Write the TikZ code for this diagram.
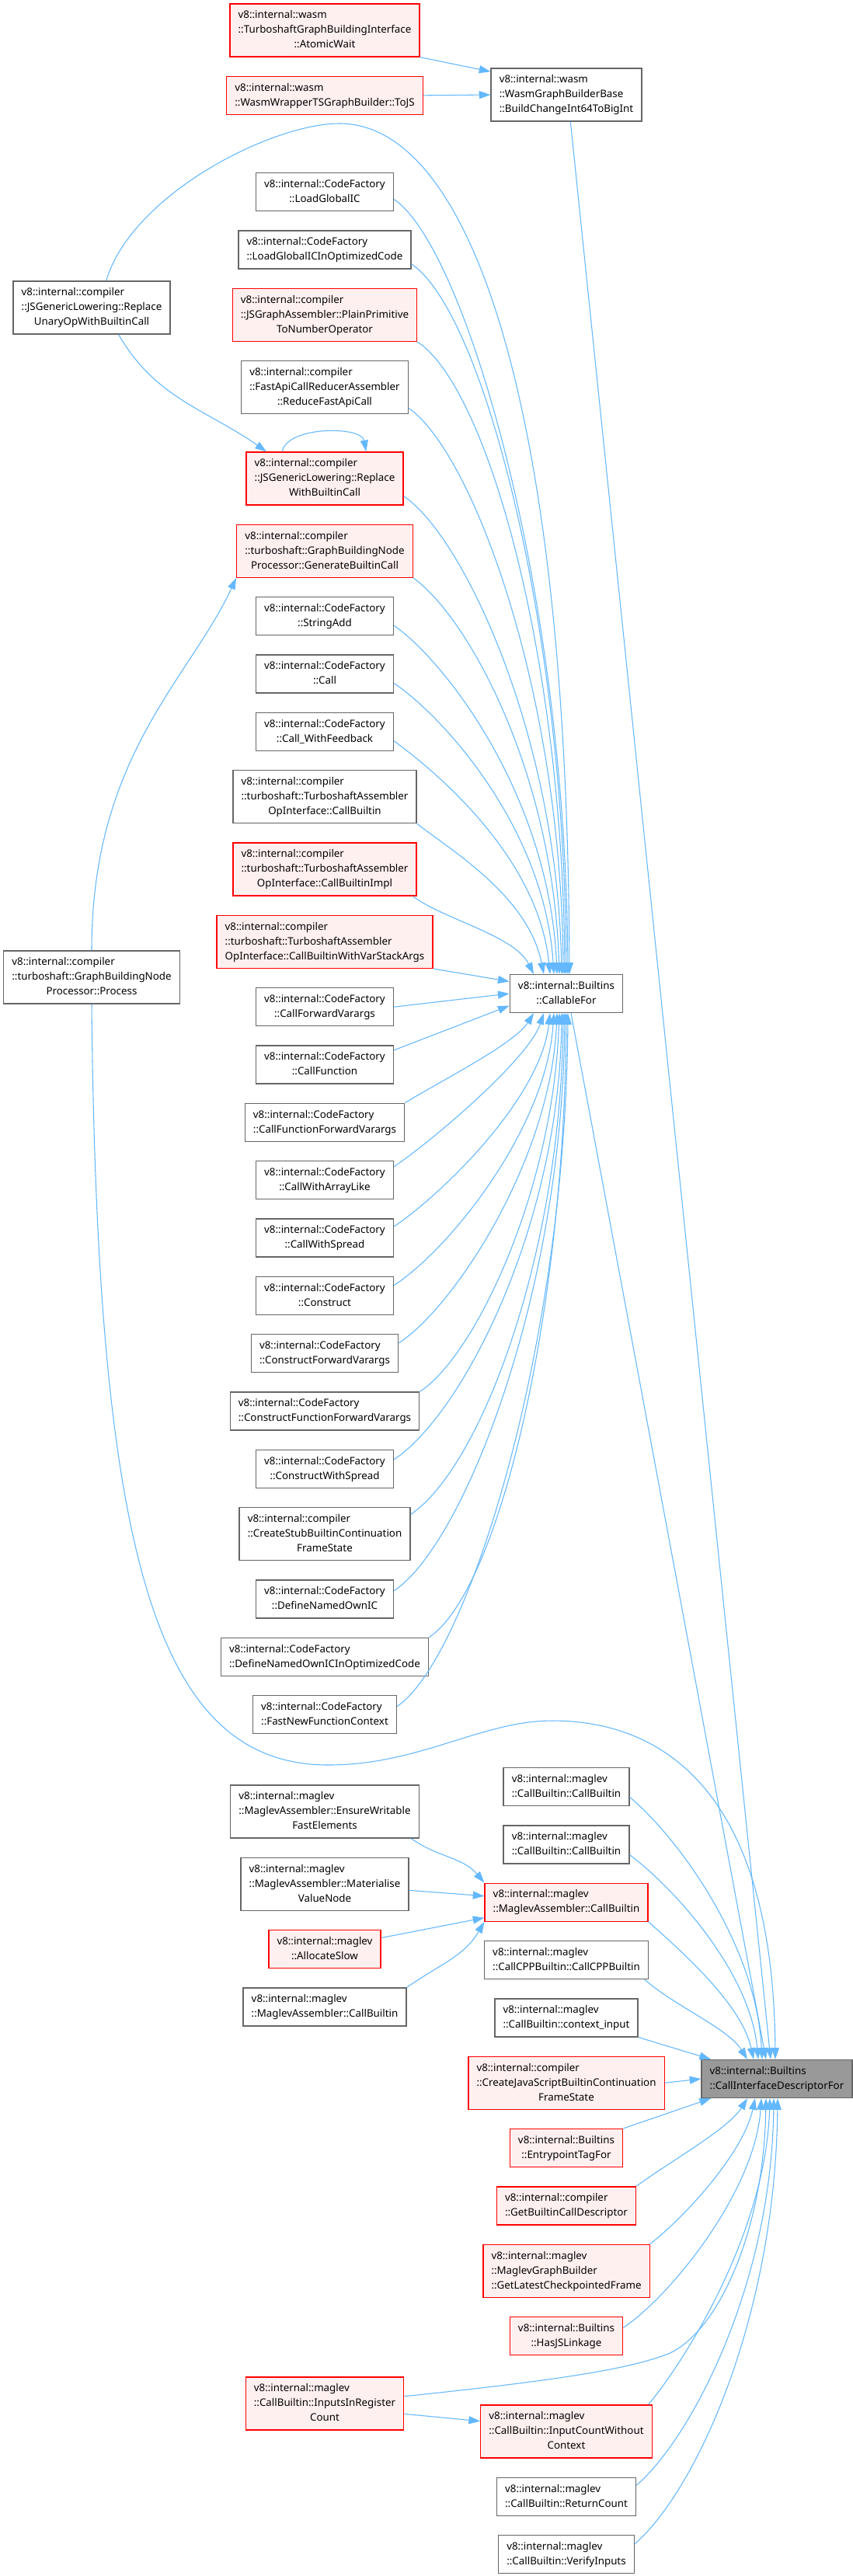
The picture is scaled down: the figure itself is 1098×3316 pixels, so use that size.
\documentclass[tikz,border=0pt]{standalone}
\usepackage{fontspec}
\setmainfont{Noto Sans}
\usepackage{tikz}
\usetikzlibrary{arrows.meta,positioning}
\definecolor{callblue}{HTML}{63B8FF}
\definecolor{boxgray}{HTML}{666666}
\definecolor{hotred}{HTML}{FF0000}
\definecolor{pinkbg}{HTML}{FFF0F0}
\definecolor{focusgray}{HTML}{999999}
\newcommand{\fnname}[2]{\begin{tabular}{@{}l@{}}#1\\\multicolumn{1}{@{}c@{}}{#2}\end{tabular}}
\tikzset{
  >={Triangle[length=11pt,width=7.5pt]},
  every node/.style={font=\fontsize{10}{14.25}\selectfont,text=black},
  fn/.style={draw=boxgray,line width=1pt,fill=white,inner xsep=8pt,inner ysep=4.125pt},
  fnred/.style={fn,draw=hotred,fill=pinkbg},
  fnfocus/.style={fn,fill=focusgray},
  callarr/.style={->,draw=callblue,line width=0.8pt}
}

\begin{document}
\begin{tikzpicture}[x=0.75pt,y=-0.75pt,node distance=18pt]
  \path[use as bounding box,fill=white] (0,0) rectangle (1098,3316);

  % left column
  \node[fn] (unaryop) at (118,396) {\fnname{v8::internal::compiler\\::JSGenericLowering::Replace}{UnaryOpWithBuiltinCall}};
  \node[fn] (process) at (118,1258) {\fnname{v8::internal::compiler\\::turboshaft::GraphBuildingNode}{Processor::Process}};

  % second column, upper part
  \node[fnred] (atomic) at (418,39) {\fnname{v8::internal::wasm\\::TurboshaftGraphBuildingInterface}{::AtomicWait}};
  \node[fnred,below=of atomic] (tojs) {\fnname{v8::internal::wasm}{::WasmWrapperTSGraphBuilder::ToJS}};
  \node[fn,below=55.5pt of tojs] (lgic) {\fnname{v8::internal::CodeFactory}{::LoadGlobalIC}};
  \node[fn,below=of lgic] (lgicopt) {\fnname{v8::internal::CodeFactory}{::LoadGlobalICInOptimizedCode}};
  \node[fnred,below=of lgicopt] (plainprim) {\fnname{v8::internal::compiler\\::JSGraphAssembler::PlainPrimitive}{ToNumberOperator}};
  \node[fn,below=of plainprim] (fastapi) {\fnname{v8::internal::compiler\\::FastApiCallReducerAssembler}{::ReduceFastApiCall}};
  \node[fnred,below=36pt of fastapi] (replwith) {\fnname{v8::internal::compiler\\::JSGenericLowering::Replace}{WithBuiltinCall}};
  \node[fnred,below=of replwith] (genbuiltin) {\fnname{v8::internal::compiler\\::turboshaft::GraphBuildingNode}{Processor::GenerateBuiltinCall}};
  \node[fn,below=of genbuiltin] (stringadd) {\fnname{v8::internal::CodeFactory}{::StringAdd}};
  \node[fn,below=of stringadd] (call) {\fnname{v8::internal::CodeFactory}{::Call}};
  \node[fn,below=of call] (callfb) {\fnname{v8::internal::CodeFactory}{::Call\_WithFeedback}};
  \node[fn,below=of callfb] (tsacb) {\fnname{v8::internal::compiler\\::turboshaft::TurboshaftAssembler}{OpInterface::CallBuiltin}};
  \node[fnred,below=of tsacb] (tsaimpl) {\fnname{v8::internal::compiler\\::turboshaft::TurboshaftAssembler}{OpInterface::CallBuiltinImpl}};
  \node[fnred,below=of tsaimpl] (tsavar) {\fnname{v8::internal::compiler\\::turboshaft::TurboshaftAssembler}{OpInterface::CallBuiltinWithVarStackArgs}};
  \node[fn,below=of tsavar] (cfwd) {\fnname{v8::internal::CodeFactory}{::CallForwardVarargs}};
  \node[fn,below=of cfwd] (cfunc) {\fnname{v8::internal::CodeFactory}{::CallFunction}};
  \node[fn,below=of cfunc] (cffwd) {\fnname{v8::internal::CodeFactory}{::CallFunctionForwardVarargs}};
  \node[fn,below=of cffwd] (cwal) {\fnname{v8::internal::CodeFactory}{::CallWithArrayLike}};
  \node[fn,below=of cwal] (cwspread) {\fnname{v8::internal::CodeFactory}{::CallWithSpread}};
  \node[fn,below=of cwspread] (construct) {\fnname{v8::internal::CodeFactory}{::Construct}};
  \node[fn,below=of construct] (ctfwd) {\fnname{v8::internal::CodeFactory}{::ConstructForwardVarargs}};
  \node[fn,below=of ctfwd] (ctffwd) {\fnname{v8::internal::CodeFactory}{::ConstructFunctionForwardVarargs}};
  \node[fn,below=of ctffwd] (ctspread) {\fnname{v8::internal::CodeFactory}{::ConstructWithSpread}};
  \node[fn,below=of ctspread] (stubstate) {\fnname{v8::internal::compiler\\::CreateStubBuiltinContinuation}{FrameState}};
  \node[fn,below=of stubstate] (dnoic) {\fnname{v8::internal::CodeFactory}{::DefineNamedOwnIC}};
  \node[fn,below=of dnoic] (dnoicopt) {\fnname{v8::internal::CodeFactory}{::DefineNamedOwnICInOptimizedCode}};
  \node[fn,below=of dnoicopt] (fnfc) {\fnname{v8::internal::CodeFactory}{::FastNewFunctionContext}};

  % second column, lower part
  \node[fn] (ensure) at (418,2332) {\fnname{v8::internal::maglev\\::MaglevAssembler::EnsureWritable}{FastElements}};
  \node[fn,below=of ensure] (materialise) {\fnname{v8::internal::maglev\\::MaglevAssembler::Materialise}{ValueNode}};
  \node[fnred,below=of materialise] (alloc) {\fnname{v8::internal::maglev}{::AllocateSlow}};
  \node[fn,below=of alloc] (macbw) {\fnname{v8::internal::maglev}{::MaglevAssembler::CallBuiltin}};
  \node[fnred] (inreg) at (418,3094) {\fnname{v8::internal::maglev\\::CallBuiltin::InputsInRegister}{Count}};

  % third column
  \node[fn] (wasmgbb) at (729,122) {\fnname{v8::internal::wasm\\::WasmGraphBuilderBase}{::BuildChangeInt64ToBigInt}};
  \node[fn] (callable) at (729,1279) {\fnname{v8::internal::Builtins}{::CallableFor}};
  \node[fn] (cb1) at (729,2300) {\fnname{v8::internal::maglev}{::CallBuiltin::CallBuiltin}};
  \node[fn,below=of cb1] (cb2) {\fnname{v8::internal::maglev}{::CallBuiltin::CallBuiltin}};
  \node[fnred,below=of cb2] (macb) {\fnname{v8::internal::maglev}{::MaglevAssembler::CallBuiltin}};
  \node[fn,below=of macb] (cppb) {\fnname{v8::internal::maglev}{::CallCPPBuiltin::CallCPPBuiltin}};
  \node[fn,below=of cppb] (ctxin) {\fnname{v8::internal::maglev}{::CallBuiltin::context\_input}};
  \node[fnred,below=of ctxin] (jsframe) {\fnname{v8::internal::compiler\\::CreateJavaScriptBuiltinContinuation}{FrameState}};
  \node[fnred,below=of jsframe] (entrytag) {\fnname{v8::internal::Builtins}{::EntrypointTagFor}};
  \node[fnred,below=of entrytag] (getdesc) {\fnname{v8::internal::compiler}{::GetBuiltinCallDescriptor}};
  \node[fnred,below=of getdesc] (latestframe) {\fnname{v8::internal::maglev\\::MaglevGraphBuilder}{::GetLatestCheckpointedFrame}};
  \node[fnred,below=of latestframe] (hasjs) {\fnname{v8::internal::Builtins}{::HasJSLinkage}};
  \node[fnred] (incount) at (729,3130) {\fnname{v8::internal::maglev\\::CallBuiltin::InputCountWithout}{Context}};
  \node[fn,below=of incount] (retcount) {\fnname{v8::internal::maglev}{::CallBuiltin::ReturnCount}};
  \node[fn,below=of retcount] (verify) {\fnname{v8::internal::maglev}{::CallBuiltin::VerifyInputs}};

  % the function itself
  \node[fnfocus] (target) at (1000,2676) {\fnname{v8::internal::Builtins}{::CallInterfaceDescriptorFor}};

  % into BuildChangeInt64ToBigInt
  \draw[callarr] (atomic.south east) -- (wasmgbb.163);
  \draw[callarr] (tojs.east) -- (wasmgbb.west);

  % into CallableFor, from above
  \draw[callarr] ([xshift=14pt]unaryop.north) .. controls (170,250) and (350,159) .. (437,159) .. controls (600,159) and (730,500) .. ([xshift=3pt]callable.north);
  \draw[callarr] ([yshift=-7pt]lgic.east) .. controls +(90,60) and +(-3,-500) .. ([xshift=1.5pt]callable.north);
  \draw[callarr] ([yshift=5pt]lgicopt.south east) .. controls +(90,60) and +(-3,-460) .. (callable.north);
  \draw[callarr] (plainprim.south east) .. controls +(90,60) and +(-3,-410) .. ([xshift=-1.5pt]callable.north);
  \draw[callarr] ([yshift=6pt]fastapi.south east) .. controls +(80,55) and +(-3,-370) .. ([xshift=-3pt]callable.north);
  \draw[callarr] ([yshift=9pt]replwith.south east) .. controls +(75,50) and +(-6,-310) .. ([xshift=-4.5pt]callable.north);
  \draw[callarr] (genbuiltin.south east) .. controls +(70,50) and +(-8,-260) .. ([xshift=-6.75pt]callable.north);
  \draw[callarr] ([yshift=-9pt]stringadd.east) .. controls +(65,45) and +(-10,-230) .. ([xshift=-9pt]callable.north);
  \draw[callarr] ([yshift=-9pt]call.east) .. controls +(60,40) and +(-12,-190) .. ([xshift=-12pt]callable.north);
  \draw[callarr] ([yshift=-9pt]callfb.east) .. controls +(55,40) and +(-15,-150) .. ([xshift=-15.75pt]callable.north);
  \draw[callarr] (tsacb.south east) .. controls +(45,35) and +(-20,-100) .. ([xshift=-21.75pt]callable.north);
  \draw[callarr] ([xshift=-4pt]tsaimpl.south east) .. controls +(40,30) and +(-25,-50) .. ([xshift=-31.5pt]callable.north);
  \draw[callarr] (tsavar.south east) -- (callable.168);
  \draw[callarr] (cfwd.east) -- (callable.west);
  \draw[callarr] ([yshift=14pt]cfunc.east) -- (callable.192);

  % into CallableFor, from below
  \draw[callarr] (cffwd.north east) .. controls +(40,-25) and +(-25,40) .. ([xshift=-31.5pt]callable.south);
  \draw[callarr] ([yshift=13pt]cwal.east) .. controls +(45,-30) and +(-20,60) .. ([xshift=-21.75pt]callable.south);
  \draw[callarr] ([yshift=11pt]cwspread.east) .. controls +(60,-40) and +(-12,110) .. ([xshift=-15.75pt]callable.south);
  \draw[callarr] ([yshift=10pt]construct.east) .. controls +(70,-45) and +(-10,150) .. ([xshift=-12pt]callable.south);
  \draw[callarr] ([yshift=10pt]ctfwd.east) .. controls +(70,-45) and +(-8,190) .. ([xshift=-9pt]callable.south);
  \draw[callarr] (ctffwd.north east) .. controls +(70,-45) and +(-8,230) .. ([xshift=-6.75pt]callable.south);
  \draw[callarr] ([yshift=9pt]ctspread.east) .. controls +(90,-60) and +(-3,270) .. ([xshift=-4.5pt]callable.south);
  \draw[callarr] ([yshift=-7pt]stubstate.north east) .. controls +(90,-60) and +(-3,310) .. ([xshift=-3pt]callable.south);
  \draw[callarr] ([yshift=8pt]dnoic.east) .. controls +(90,-60) and +(-3,360) .. ([xshift=-1.5pt]callable.south);
  \draw[callarr] (dnoicopt.north east) .. controls +(90,-60) and +(-3,390) .. (callable.south);
  \draw[callarr] ([yshift=8pt]fnfc.east) .. controls +(90,-60) and +(-3,430) .. ([xshift=1.5pt]callable.south);

  % compiler callers among themselves
  \draw[callarr] ([xshift=26pt]unaryop.south) to[out=-60,in=145] ([xshift=20pt]replwith.north west);
  \draw[callarr] ([xshift=-41pt]replwith.north) to[out=80,in=100,looseness=0.8] ([xshift=40pt]replwith.north);
  \draw[callarr] (process.north) .. controls +(0,-250) and +(-60,130) .. (genbuiltin.south west);

  % into MaglevAssembler::CallBuiltin
  \draw[callarr] ([xshift=-8pt]ensure.south east) to[out=-35,in=130] (macb.north west);
  \draw[callarr] ([yshift=-6pt]materialise.east) -- ([yshift=6pt]macb.west);
  \draw[callarr] ([yshift=11pt]alloc.east) -- ([yshift=-15pt]macb.west);
  \draw[callarr] (macbw.north east) to[out=35,in=-120] (macb.south west);

  % into CallInterfaceDescriptorFor, from above
  \draw[callarr] ([xshift=4pt]wasmgbb.south) -- ([xshift=-6pt]target.north);
  \draw[callarr] ([xshift=4.5pt]callable.south) -- ([xshift=-10.5pt]target.north);
  \draw[callarr] (process.south) .. controls (125,2000) and (200,2272) .. (423,2272) .. controls (540,2272) and (620,2215) .. (711,2215) .. controls (840,2215) and (995,2290) .. ([xshift=-1.5pt]target.north);
  \draw[callarr] ([yshift=-10pt]cb1.east) .. controls +(60,50) and +(-8,-150) .. ([xshift=-14.25pt]target.north);
  \draw[callarr] ([yshift=-10pt]cb2.east) .. controls +(60,45) and +(-10,-110) .. ([xshift=-18pt]target.north);
  \draw[callarr] (macb.south east) .. controls +(45,40) and +(-15,-70) .. ([xshift=-22.5pt]target.north);
  \draw[callarr] ([xshift=-4pt]cppb.south east) .. controls +(40,35) and +(-25,-40) .. ([xshift=-28.5pt]target.north);
  \draw[callarr] (ctxin.south east) -- ([xshift=-63.75pt]target.north);
  \draw[callarr] (jsframe.east) -- (target.west);

  % into CallInterfaceDescriptorFor, from below
  \draw[callarr] (entrytag.north east) -- ([xshift=-63.75pt]target.south);
  \draw[callarr] (getdesc.north east) .. controls +(40,-30) and +(-25,40) .. ([xshift=-28.5pt]target.south);
  \draw[callarr] (latestframe.north east) .. controls +(45,-35) and +(-15,70) .. ([xshift=-21pt]target.south);
  \draw[callarr] ([yshift=8pt]hasjs.east) .. controls +(60,-40) and +(-8,120) .. ([xshift=-15pt]target.south);
  \draw[callarr] ([yshift=7pt]inreg.east) .. controls (760,3060) and (820,3045) .. (860,3030) .. controls (920,3005) and (983,2880) .. ([xshift=-10.5pt]target.south);
  \draw[callarr] ([xshift=-4pt]incount.north east) .. controls +(50,-60) and +(-5,170) .. ([xshift=-6.75pt]target.south);
  \draw[callarr] ([yshift=11pt]retcount.east) .. controls +(70,-60) and +(-3,240) .. ([xshift=-3pt]target.south);
  \draw[callarr] ([yshift=10pt]verify.east) .. controls +(80,-70) and +(-3,280) .. ([xshift=0.75pt]target.south);
  \draw[callarr] ([yshift=-10pt]inreg.east) -- ([yshift=10pt]incount.west);
\end{tikzpicture}
\end{document}
